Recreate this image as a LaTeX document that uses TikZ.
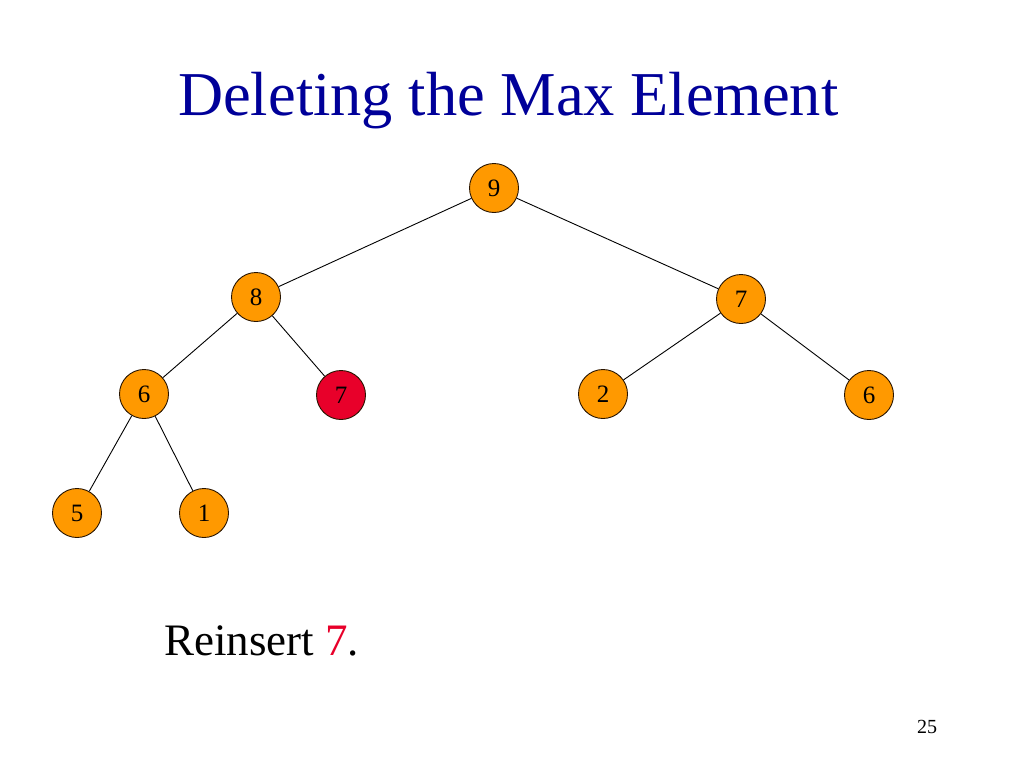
\documentclass[tikz,border=0pt]{standalone}
\usepackage{fontspec}
\setmainfont{Liberation Serif}
\definecolor{titleblue}{RGB}{0,0,153}
\definecolor{heaporange}{RGB}{255,153,0}
\definecolor{heapred}{RGB}{232,0,42}
\definecolor{rimcol}{RGB}{40,20,0}
\tikzset{
  heapnode/.style={circle, draw=rimcol, line width=0.9pt, fill=heaporange,
    minimum size=49pt, inner sep=0pt, font=\fontsize{25}{25}\selectfont},
  rednode/.style={heapnode, fill=heapred},
  edge/.style={draw=black, line width=0.9pt}
}
\begin{document}
\begin{tikzpicture}[x=1pt,y=-1pt]
\useasboundingbox[fill=white] (0,0) rectangle (1024,768);
\node[anchor=base west, inner sep=0pt, text=titleblue, font=\fontsize{62.4}{62.4}\selectfont] (title) at (178,115) {Deleting the Max Element};

\node[heapnode] (n9) at (494,188) {9};
\node[heapnode] (n8) at (256,297) {8};
\node[heapnode] (n7r) at (741,299) {7};
\node[heapnode] (n6l) at (144,394) {6};
\node[rednode] (n7x) at (341,395) {7};
\node[heapnode] (n2) at (603,394) {2};
\node[heapnode] (n6r) at (869,395) {6};
\node[heapnode] (n5) at (77,513) {5};
\node[heapnode] (n1) at (204,513) {1};

\draw[edge] (n9) -- (n8);
\draw[edge] (n9) -- (n7r);
\draw[edge] (n8) -- (n6l);
\draw[edge] (n8) -- (n7x);
\draw[edge] (n7r) -- (n2);
\draw[edge] (n7r) -- (n6r);
\draw[edge] (n6l) -- (n5);
\draw[edge] (n6l) -- (n1);

\node[anchor=base west, inner sep=0pt, font=\fontsize{45}{45}\selectfont] (reins) at (164,655) {Reinsert \textcolor{heapred}{7}.};
\node[anchor=base west, inner sep=0pt, font=\fontsize{20}{20}\selectfont] (pnum) at (917,733) {25};
\end{tikzpicture}
\end{document}
